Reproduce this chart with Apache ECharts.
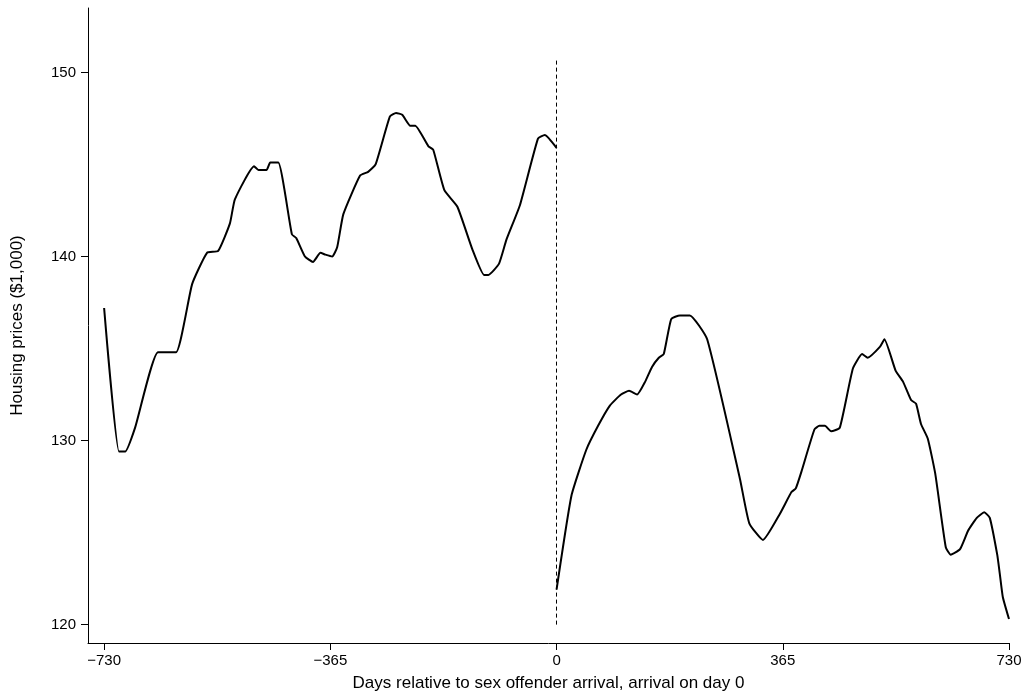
<!DOCTYPE html>
<html>
<head>
<meta charset="utf-8">
<script src="https://cdn.jsdelivr.net/npm/echarts@6/dist/echarts.min.js"></script>
<style>html,body{margin:0;background:#fff}#chart{width:1030px;height:700px}</style>
</head>
<body>
<div id="chart"></div>
<script>
// days relative to arrival, housing prices ($1,000)
var beforeDays = [-730,-706,-696,-680,-643,-614,-588,-564,-546,-527,-519,-488,-481,-468,-462,-449,-427,-420,-406,-393,-381,-373,-362,-354,-344,-317,-304,-292,-269,-259,-249,-236,-228,-207,-199,-181,-160,-136,-117,-110,-93,-81,-59,-30,-19,0];
var beforePrices = [137.2,129.4,129.4,130.7,134.8,134.8,138.5,140.2,140.3,141.8,143.1,144.9,144.7,144.7,145.1,145.1,141.2,141.0,140.0,139.7,140.2,140.1,140.0,140.5,142.3,144.4,144.6,145.0,147.6,147.8,147.7,147.1,147.1,146.0,145.8,143.6,142.7,140.4,139.0,139.0,139.6,140.9,142.8,146.4,146.6,145.9];
var afterDays = [0,24,48,67,86,104,117,130,143,154,165,173,185,199,215,243,296,311,333,360,379,386,395,416,424,433,443,457,478,493,502,522,529,547,559,572,580,588,599,611,628,636,651,664,678,690,699,711,715,720,730];
var afterPrices = [121.9,127.0,129.5,130.8,131.9,132.5,132.7,132.5,133.2,134.0,134.5,134.7,136.6,136.8,136.8,135.5,127.9,125.5,124.6,126.0,127.2,127.4,128.3,130.6,130.8,130.8,130.5,130.7,133.9,134.7,134.5,135.1,135.5,133.8,133.2,132.2,132.0,130.9,130.1,128.2,124.2,123.8,124.1,125.1,125.8,126.1,125.8,123.8,122.8,121.5,120.3];
var xTicks = [-730, -365, 0, 365, 730];
var yTicks = [120, 130, 140, 150];

function pairs(xs, ys) { return xs.map(function (x, i) { return [x, ys[i]]; }); }
var txt = { color: '#000', fontFamily: 'Liberation Sans', fontSize: 15 };

echarts.init(document.getElementById('chart')).setOption({
  animation: false,
  grid: { left: 88, right: 21, top: 8, bottom: 57 },
  xAxis: {
    type: 'value', min: -756, max: 730,
    name: 'Days relative to sex offender arrival, arrival on day 0',
    nameLocation: 'middle', nameGap: 32,
    nameTextStyle: { color: '#000', fontFamily: 'Liberation Sans', fontSize: 17 },
    axisLine: { onZero: false, lineStyle: { color: '#000', width: 1 } },
    axisTick: { customValues: xTicks, length: 7, lineStyle: { color: '#000' } },
    axisLabel: Object.assign({ customValues: xTicks, margin: 10,
      formatter: function (v) { return String(v).replace('-', '\u2212'); } }, txt),
    splitLine: { show: false }
  },
  yAxis: {
    type: 'value', min: 119, max: 153.5,
    name: 'Housing prices ($1,000)',
    nameLocation: 'middle', nameGap: 62, nameRotate: 90,
    nameTextStyle: { color: '#000', fontFamily: 'Liberation Sans', fontSize: 17 },
    axisLine: { show: true, onZero: false, lineStyle: { color: '#000', width: 1 } },
    axisTick: { show: true, customValues: yTicks, length: 7, lineStyle: { color: '#000' } },
    axisLabel: Object.assign({ customValues: yTicks, margin: 12 }, txt),
    splitLine: { show: false }
  },
  series: [
    {
      type: 'line', data: pairs(beforeDays, beforePrices), smooth: 0.15, symbol: 'none',
      lineStyle: { color: '#000', width: 2 },
      markLine: {
        symbol: 'none', silent: true, label: { show: false },
        lineStyle: { color: '#000', type: [4, 3], width: 1 },
        data: [[{ coord: [0, 120] }, { coord: [0, 150.8] }]]
      }
    },
    {
      type: 'line', data: pairs(afterDays, afterPrices), smooth: 0.15, symbol: 'none',
      lineStyle: { color: '#000', width: 2 }
    }
  ]
});
</script>
</body>
</html>
